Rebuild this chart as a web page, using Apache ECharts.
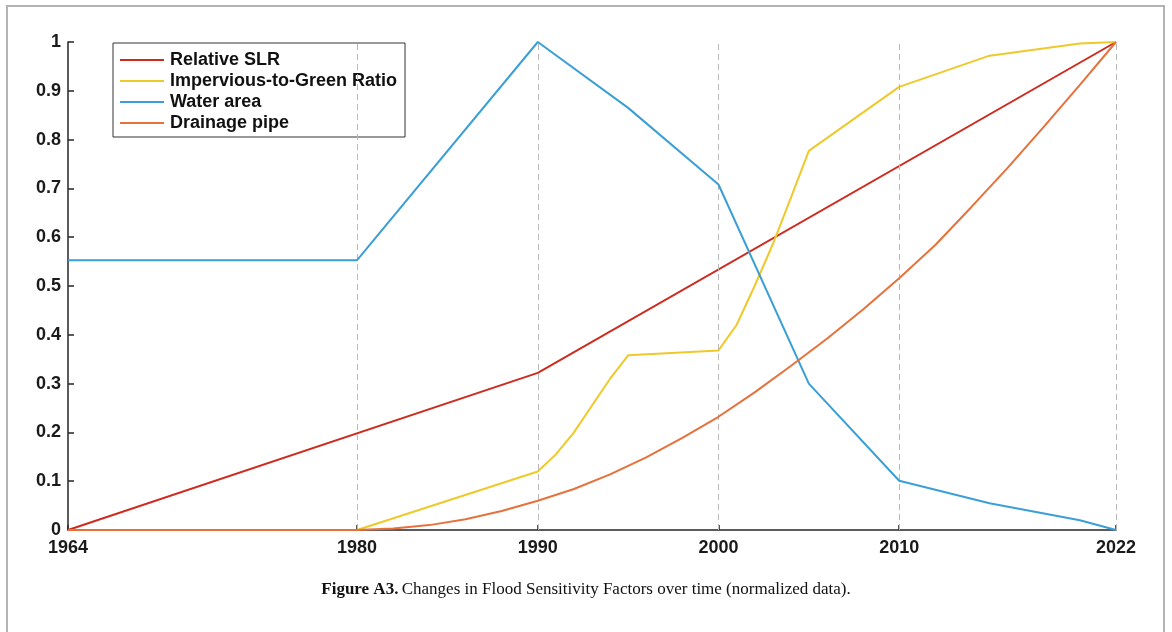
<!DOCTYPE html>
<html>
<head>
<meta charset="utf-8">
<script src="https://cdn.jsdelivr.net/npm/echarts@6/dist/echarts.min.js"></script>
<style>
  html, body { margin: 0; padding: 0; background: #fff; }
  #chart { width: 1172px; height: 632px; }
</style>
</head>
<body>
<div id="chart"></div>
<script>
// Normalized flood sensitivity factors, 1964-2022
const xTickYears = [1964, 1980, 1990, 2000, 2010, 2022];
const yTicks = [0, 0.1, 0.2, 0.3, 0.4, 0.5, 0.6, 0.7, 0.8, 0.9, 1];
const gridYears = [1980, 1990, 2000, 2010, 2022];

const slrYears = [1964, 1990, 2022];
const slrValues = [0, 0.322, 1];

const imperviousYears = [1964, 1980, 1990, 1991, 1992, 1993, 1994, 1995, 2000, 2001, 2002, 2003, 2004, 2005, 2010, 2015, 2020, 2022];
const imperviousValues = [0, 0, 0.12, 0.155, 0.2, 0.255, 0.31, 0.358, 0.368, 0.42, 0.5, 0.585, 0.68, 0.777, 0.908, 0.972, 0.997, 1];

const waterYears = [1964, 1980, 1990, 1995, 2000, 2005, 2010, 2015, 2020, 2022];
const waterValues = [0.553, 0.553, 1, 0.865, 0.708, 0.3, 0.101, 0.055, 0.02, 0];

const drainageYears = [1964, 1980, 1982, 1984, 1986, 1988, 1990, 1992, 1994, 1996, 1998, 2000, 2002, 2004, 2006, 2008, 2010, 2012, 2014, 2016, 2018, 2020, 2022];
const drainageValues = [0, 0, 0.003, 0.010, 0.022, 0.039, 0.060, 0.084, 0.114, 0.149, 0.189, 0.232, 0.282, 0.336, 0.392, 0.452, 0.516, 0.584, 0.662, 0.742, 0.826, 0.912, 1];

const seriesNames = ['Relative SLR', 'Impervious-to-Green Ratio', 'Water area', 'Drainage pipe'];
const seriesColors = ['#cf2a1e', '#efc92a', '#3a9fd6', '#e6713a'];

const pairs = (xs, ys) => xs.map((x, i) => [x, ys[i]]);
const seriesData = [
  pairs(slrYears, slrValues),
  pairs(imperviousYears, imperviousValues),
  pairs(waterYears, waterValues),
  pairs(drainageYears, drainageValues)
];

const sansFont = '"Liberation Sans", Arial, Helvetica, sans-serif';
const serifFont = '"Liberation Serif", "Times New Roman", serif';
const axisColor = '#262626';

const chart = echarts.init(document.getElementById('chart'), null, { renderer: 'canvas' });

const series = seriesNames.map((name, i) => ({
  name: name,
  type: 'line',
  data: seriesData[i],
  showSymbol: false,
  symbol: 'none',
  smooth: false,
  z: 3 + i,
  lineStyle: { color: seriesColors[i], width: 2 },
  itemStyle: { color: seriesColors[i] },
  emphasis: { disabled: true }
}));

// dashed vertical guides at the labelled years
series.push({
  name: 'guides',
  type: 'line',
  data: [],
  silent: true,
  z: 1,
  markLine: {
    silent: true,
    symbol: 'none',
    label: { show: false },
    lineStyle: { color: '#b8b8b8', width: 1, type: [6, 4] },
    emphasis: { disabled: true },
    data: gridYears.map(y => ({ xAxis: y }))
  }
});

chart.setOption({
  animation: false,
  backgroundColor: '#fff',
  grid: { left: 68, right: 56, top: 42, bottom: 102, containLabel: false },
  xAxis: {
    type: 'value',
    min: 1964,
    max: 2022,
    axisLine: { show: true, onZero: false, lineStyle: { color: axisColor, width: 1.5 } },
    axisTick: { show: true, inside: true, length: 5, customValues: xTickYears, lineStyle: { color: axisColor, width: 1.5 } },
    axisLabel: {
      customValues: xTickYears,
      margin: 9,
      color: '#1a1a1a',
      fontFamily: sansFont,
      fontWeight: 'bold',
      fontSize: 18,
      formatter: v => String(v)
    },
    splitLine: { show: false }
  },
  yAxis: {
    type: 'value',
    min: 0,
    max: 1,
    interval: 0.1,
    axisLine: { show: true, lineStyle: { color: axisColor, width: 1.5 } },
    axisTick: { show: true, inside: true, length: 6, lineStyle: { color: axisColor, width: 1.5 } },
    axisLabel: {
      customValues: yTicks,
      margin: 7,
      color: '#1a1a1a',
      fontFamily: sansFont,
      fontWeight: 'bold',
      fontSize: 18,
      formatter: v => String(+v.toFixed(1))
    },
    splitLine: { show: false }
  },
  legend: {
    data: seriesNames,
    orient: 'vertical',
    left: 113,
    top: 43,
    padding: [8, 8, 5, 7],
    itemGap: 3,
    itemWidth: 44,
    itemHeight: 2,
    icon: 'rect',
    backgroundColor: '#fff',
    borderColor: '#333',
    borderWidth: 1,
    selectedMode: false,
    textStyle: {
      color: '#111',
      fontFamily: sansFont,
      fontWeight: 'bold',
      fontSize: 18,
      padding: [0, 0, 0, 1]
    }
  },
  graphic: [
    {
      type: 'rect',
      silent: true,
      shape: { x: 7, y: 6, width: 1157, height: 700 },
      style: { fill: 'none', stroke: '#b3b3b3', lineWidth: 2 },
      z: -10
    },
    {
      type: 'text',
      silent: true,
      x: 586,
      y: 590,
      style: {
        text: '{b|Figure A3.} {n|Changes in Flood Sensitivity Factors over time (normalized data).}',
        align: 'center',
        verticalAlign: 'middle',
        rich: {
          b: { fontFamily: serifFont, fontWeight: 'bold', fontSize: 17, fill: '#111' },
          n: { fontFamily: serifFont, fontSize: 17, fill: '#111' }
        }
      }
    }
  ],
  series: series
});
</script>
</body>
</html>
